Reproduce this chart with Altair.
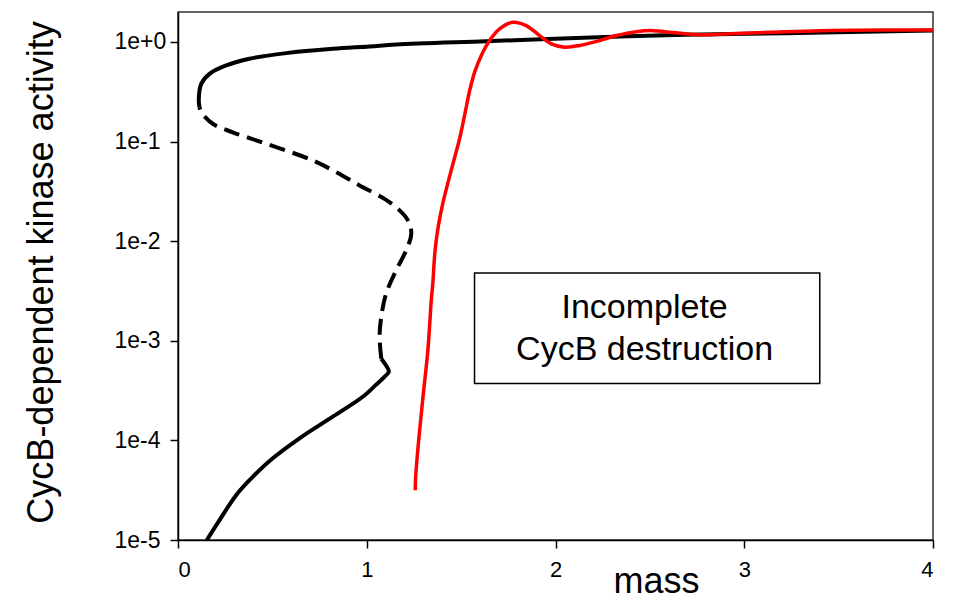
import altair as alt
import pandas as pd

# ---- data ----
lower_x = [0.153, 0.220, 0.308, 0.397, 0.502, 0.644, 0.820, 0.979, 1.050, 1.095, 1.117, 1.100, 1.077]
lower_y = [1.0e-5, 1.58e-5, 2.82e-5, 4.32e-5, 6.61e-5, 1.05e-4, 1.73e-4, 2.74e-4, 3.63e-4,
           4.37e-4, 4.90e-4, 5.75e-4, 6.61e-4]

dash_x = [1.077, 1.068, 1.077, 1.103, 1.156, 1.209, 1.236, 1.218, 1.174, 1.094, 0.962, 0.838, 0.714,
          0.467, 0.290, 0.184, 0.123, 0.114]
dash_y = [6.61e-4, 1.10e-3, 1.74e-3, 2.99e-3, 5.11e-3, 8.11e-3, 0.0119, 0.0162, 0.0204, 0.0266, 0.0363,
          0.0494, 0.0647, 0.0953, 0.124, 0.151, 0.198, 0.222]

upper_x = [0.114, 0.110, 0.123, 0.167, 0.255, 0.379, 0.573, 0.820, 1.015, 1.156, 1.633, 2.34, 2.693,
           3.223, 4.0]
upper_y = [0.222, 0.259, 0.380, 0.479, 0.581, 0.679, 0.773, 0.855, 0.902, 0.944, 1.019, 1.135, 1.180,
           1.225, 1.303]

red_x = [1.257, 1.259, 1.275, 1.297, 1.324, 1.342, 1.350, 1.362, 1.380, 1.403, 1.439, 1.470, 1.492,
         1.518, 1.545, 1.572, 1.607, 1.651, 1.704, 1.774, 1.845, 1.916, 1.978, 2.048, 2.128, 2.234,
         2.322, 2.428, 2.516, 2.622, 2.781, 2.923, 3.135, 3.400, 3.753, 4.000]
red_y = [3.16e-5, 4.27e-5, 1.0e-4, 2.63e-4, 8.1e-4, 2.57e-3, 3.76e-3, 8.1e-3, 0.0145, 0.024, 0.0447,
         0.0741, 0.107, 0.182, 0.324, 0.501, 0.733, 1.035, 1.355, 1.58, 1.46, 1.16, 0.959, 0.887, 0.923,
         1.035, 1.16, 1.27, 1.30, 1.245, 1.18, 1.21, 1.25, 1.30, 1.32, 1.32]

box_x = [1.571]
box_x2 = [3.40]
box_y = [4.80e-3]
box_y2 = [3.73e-4]

label_lines = ["Incomplete", "CycB destruction"]
label_x = [2.472, 2.472]
label_y = [1.69e-3, 6.38e-4]

x_ticks = [0, 1, 2, 3, 4]
y_ticks = [1e-5, 1e-4, 1e-3, 1e-2, 1e-1, 1]

FONT = "Liberation Sans"


def seg(xs, ys):
    return pd.DataFrame({"x": xs, "y": ys, "i": list(range(len(xs)))})


xscale = alt.Scale(domain=[0, 4], nice=False, zero=False)
yscale = alt.Scale(type="log", domain=[1e-5, 2], nice=False)

x_axis = alt.Axis(
    values=x_ticks, format="d", title="mass", grid=False,
    labelFontSize=22, labelPadding=11, labelFont=FONT, labelColor="black",
    tickSize=8, tickWidth=1.5, tickColor="black",
    domainColor="black", domainWidth=1.5,
    titleFont=FONT, titleFontSize=36, titleFontWeight="normal", titleColor="black",
    titleX=478, titleY=52, titleAlign="center", titleBaseline="alphabetic",
)
y_axis = alt.Axis(
    values=y_ticks, grid=False,
    labelExpr="datum.value >= 1 ? '1e+0' : '1e' + round(log(datum.value) / LN10)",
    labelAlign="left", labelBaseline="middle", labelPadding=56, labelFontSize=23,
    labelFont=FONT, labelColor="black",
    tickSize=8, tickWidth=1.5, tickColor="black",
    domainColor="black", domainWidth=1.5,
    title="CycB-dependent kinase activity",
    titleFont=FONT, titleFontSize=36, titleFontWeight="normal", titleColor="black",
    titleX=-126, titleY=260, titleAlign="center", titleBaseline="alphabetic", titleAngle=270,
)

X = alt.X("x:Q", scale=xscale, axis=x_axis)
Y = alt.Y("y:Q", scale=yscale, axis=y_axis)

lower = alt.Chart(seg(lower_x, lower_y)).mark_line(
    color="black", strokeWidth=4, interpolate="catmull-rom", clip=True
).encode(x=X, y=Y, order="i:Q")

dashed = alt.Chart(seg(dash_x, dash_y)).mark_line(
    color="black", strokeWidth=4, strokeDash=[16, 8], interpolate="catmull-rom", clip=True
).encode(x=X, y=Y, order="i:Q")

upper = alt.Chart(seg(upper_x, upper_y)).mark_line(
    color="black", strokeWidth=4, interpolate="catmull-rom", clip=True
).encode(x=X, y=Y, order="i:Q")

red = alt.Chart(seg(red_x, red_y)).mark_line(
    color="#ff0000", strokeWidth=3.5, interpolate="catmull-rom", clip=True
).encode(x=X, y=Y, order="i:Q")

box = alt.Chart(pd.DataFrame({"x": box_x, "x2": box_x2, "y": box_y, "y2": box_y2})).mark_rect(
    fill="white", stroke="black", strokeWidth=1.5
).encode(x=X, x2="x2:Q", y=Y, y2="y2:Q")

text = alt.Chart(pd.DataFrame({"x": label_x, "y": label_y, "t": label_lines})).mark_text(
    font=FONT, fontSize=34, color="black", align="center", baseline="alphabetic"
).encode(x=X, y=Y, text="t:N")

chart = alt.layer(box, text, lower, dashed, upper, red).properties(
    width=755, height=528,
    autosize=alt.AutoSizeParams(type="none"),
    padding={"left": 178, "top": 12, "right": 23, "bottom": 60},
    background="white",
).configure_view(stroke="#333333", strokeWidth=1.5)

chart.save("out.html", embed_options={"renderer": "svg", "actions": False})
